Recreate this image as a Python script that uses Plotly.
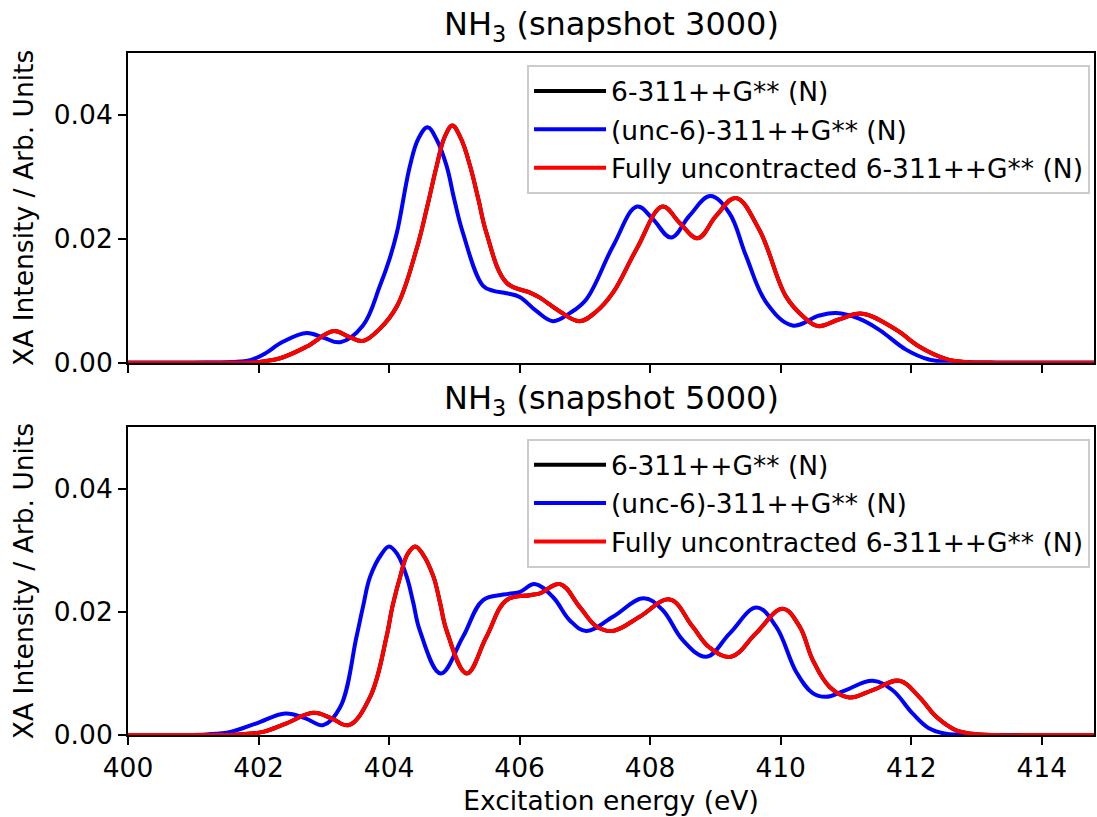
import plotly.graph_objects as go
from plotly.subplots import make_subplots

# ---- snapshot 3000 (top panel) ----
e_top_blue = [400.0, 401.0, 401.6, 401.87, 402.07, 402.38, 402.74, 403.0, 403.25, 403.6, 403.86, 404.0, 404.12,
              404.32, 404.45, 404.59, 404.73, 404.88, 405.0, 405.13, 405.44, 405.6, 405.8, 406.0, 406.26, 406.51, 406.77,
              407.02, 407.43, 407.8, 408.04, 408.32, 408.6, 408.92, 409.21, 409.47, 409.78, 410.18,
              410.59, 410.85, 411.2, 411.51, 411.92, 412.27, 412.58, 413.0, 414.0, 414.8]
i_top_blue = [0.0, 0.0, 0.0001, 0.0004, 0.0013, 0.0034, 0.0048, 0.0040, 0.0033, 0.0060, 0.0124, 0.0165, 0.0210,
              0.0318, 0.0362, 0.0380, 0.0360, 0.0318, 0.0263, 0.0210, 0.0124, 0.0116, 0.0112, 0.0106, 0.0083, 0.0067, 0.0080,
              0.0102, 0.0188, 0.0252, 0.0232, 0.0202, 0.0237, 0.0269, 0.0242, 0.0172, 0.0097, 0.0060,
              0.0076, 0.0080, 0.0071, 0.0053, 0.0021, 0.0005, 0.0001, 0.0, 0.0, 0.0]

e_top_red = [400.0, 401.5, 402.0, 402.33, 402.74, 403.15, 403.38, 403.6, 403.86, 404.12, 404.42, 404.58, 404.73,
             404.85, 404.97, 405.1, 405.24, 405.37, 405.49, 405.8, 406.16, 406.31, 406.61, 406.92, 407.18, 407.43, 407.79,
             408.19, 408.45, 408.73, 409.01, 409.31, 409.67, 410.08, 410.34, 410.57, 410.9, 411.25,
             411.77, 412.12, 412.53, 412.83, 413.3, 414.0, 414.8]
i_top_red = [0.0, 0.0, 0.0001, 0.0007, 0.0026, 0.0051, 0.0042, 0.0035, 0.0055, 0.0091, 0.0183, 0.0250, 0.0318,
             0.0364, 0.0383, 0.0362, 0.0318, 0.0263, 0.0210, 0.0129, 0.0113, 0.0105, 0.0083, 0.0067, 0.0083, 0.0113, 0.0183,
             0.0252, 0.0226, 0.0201, 0.0237, 0.0266, 0.0215, 0.0107, 0.0075, 0.0059, 0.0070, 0.0079,
             0.0053, 0.0026, 0.0006, 0.0001, 0.0, 0.0, 0.0]

# ---- snapshot 5000 (bottom panel) ----
e_bot_blue = [400.0, 400.8, 401.2, 401.57, 401.97, 402.41, 402.72, 402.99, 403.25, 403.5, 403.6, 403.71, 403.88, 404.0,
              404.13, 404.27, 404.37, 404.47, 404.79, 405.13, 405.44, 405.75, 406.0, 406.23, 406.51, 406.77, 407.02,
              407.43, 407.9, 408.19, 408.5, 408.86, 409.22, 409.63, 409.93, 410.24, 410.49, 410.69,
              411.0, 411.41, 411.71, 412.02, 412.27, 412.53, 413.0, 414.0, 414.8]
i_bot_blue = [0.0, 0.0, 0.0001, 0.0005, 0.0019, 0.0035, 0.0027, 0.0016, 0.0045, 0.0159, 0.0208, 0.0257, 0.0293, 0.0306,
              0.0293, 0.0257, 0.0215, 0.0170, 0.0100, 0.0159, 0.0219, 0.0228, 0.0232, 0.0245, 0.0224, 0.0186, 0.0169,
              0.0192, 0.0222, 0.0203, 0.0154, 0.0127, 0.0165, 0.0207, 0.0176, 0.0102, 0.0068, 0.0062,
              0.0073, 0.0088, 0.0073, 0.0035, 0.0011, 0.0002, 0.0, 0.0, 0.0]

e_bot_red = [400.0, 401.2, 401.7, 402.07, 402.43, 402.84, 403.12, 403.38, 403.71, 403.96, 404.05, 404.17, 404.28, 404.4,
             404.52, 404.68, 404.78, 404.88, 405.19, 405.49, 405.8, 406.16, 406.31, 406.62, 406.92, 407.18, 407.43,
             407.84, 408.3, 408.65, 408.91, 409.24, 409.62, 410.03, 410.29, 410.49, 410.75, 411.05,
             411.41, 411.82, 412.12, 412.38, 412.68, 412.94, 413.3, 414.0, 414.8]
i_bot_red = [0.0, 0.0, 0.0001, 0.0005, 0.0019, 0.0036, 0.0027, 0.0016, 0.0062, 0.0159, 0.0208, 0.0257, 0.0293, 0.0306,
             0.0293, 0.0257, 0.0215, 0.0170, 0.0100, 0.0159, 0.0219, 0.0227, 0.0230, 0.0245, 0.0208, 0.0176, 0.0169,
             0.0192, 0.0220, 0.0176, 0.0142, 0.0127, 0.0165, 0.0205, 0.0176, 0.0122, 0.0078, 0.0061,
             0.0073, 0.0088, 0.0062, 0.0030, 0.0008, 0.0002, 0.0, 0.0, 0.0]

names = ["6-311++G** (N)", "(unc-6)-311++G** (N)", "Fully uncontracted 6-311++G** (N)"]
colors = ["#000000", "#0000ff", "#ff0000"]
titles = ["NH<sub>3</sub> (snapshot 3000)", "NH<sub>3</sub> (snapshot 5000)"]
FONT = "DejaVu Sans"
FS = 26.5

fig = make_subplots(rows=2, cols=1, shared_xaxes=True, vertical_spacing=0.0)

panels = [
    (1, "legend", [(e_top_red, i_top_red), (e_top_blue, i_top_blue), (e_top_red, i_top_red)]),
    (2, "legend2", [(e_bot_red, i_bot_red), (e_bot_blue, i_bot_blue), (e_bot_red, i_bot_red)]),
]
for row, leg, series in panels:
    for k, (ex, iy) in enumerate(series):
        fig.add_trace(go.Scatter(x=ex, y=iy, mode="lines", name=names[k],
                                 line=dict(color=colors[k], width=4.0, shape="spline", smoothing=1.1),
                                 legend=leg, legendgroup=f"{leg}{k}", showlegend=True),
                      row=row, col=1)

axis_common = dict(showline=True, linecolor="black", linewidth=1.9, mirror=True,
                   ticks="outside", ticklen=8, tickwidth=1.9, tickcolor="black",
                   showgrid=False, zeroline=False,
                   tickfont=dict(family=FONT, size=FS, color="black"))

fig.update_xaxes(range=[400, 414.8], tickvals=[400, 402, 404, 406, 408, 410, 412, 414], **axis_common)
fig.update_xaxes(showticklabels=False, row=1, col=1)
fig.update_xaxes(title=dict(text="Excitation energy (eV)", font=dict(family=FONT, size=FS, color="black"),
                            standoff=10), row=2, col=1)
fig.update_yaxes(range=[0, 0.05], tickvals=[0, 0.02, 0.04], ticktext=["0.00", "0.02", "0.04"],
                 title=dict(text="XA Intensity / Arb. Units", font=dict(family=FONT, size=FS, color="black"),
                            standoff=12), **axis_common)

fig.layout.yaxis.domain = [0.546, 1.0]
fig.layout.yaxis2.domain = [0.0, 0.4516]

legend_common = dict(font=dict(family=FONT, size=FS, color="black"), bgcolor="rgba(255,255,255,0.8)",
                     bordercolor="#cccccc", borderwidth=1.9, xanchor="right", yanchor="top",
                     traceorder="grouped", tracegroupgap=1, itemwidth=72)

fig.update_layout(
    width=1097, height=817,
    margin=dict(l=128, r=1, t=53, b=82),
    plot_bgcolor="white", paper_bgcolor="white",
    font=dict(family=FONT, color="black"),
    legend=dict(x=0.996, y=0.982, **legend_common),
    legend2=dict(x=0.996, y=0.434, **legend_common),
    annotations=[
        dict(text=titles[0], x=0.5, y=1.0, xref="paper", yref="paper", xanchor="center", yanchor="bottom",
             yshift=4, showarrow=False, font=dict(family=FONT, size=32, color="black")),
        dict(text=titles[1], x=0.5, y=0.4516, xref="paper", yref="paper", xanchor="center", yanchor="bottom",
             yshift=4, showarrow=False, font=dict(family=FONT, size=32, color="black")),
    ],
)

fig.write_html("out.html")
